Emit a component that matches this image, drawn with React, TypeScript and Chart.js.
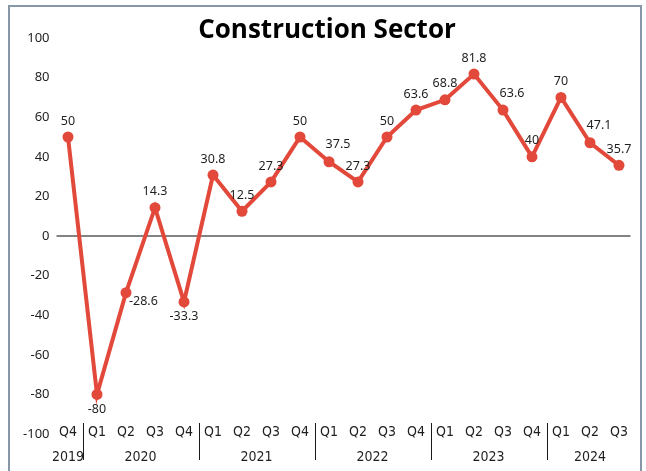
import React, { useEffect, useRef } from 'react';
import { Chart, registerables } from 'chart.js';

Chart.register(...registerables);

const quarters = ['Q4', 'Q1', 'Q2', 'Q3', 'Q4', 'Q1', 'Q2', 'Q3', 'Q4', 'Q1', 'Q2', 'Q3', 'Q4', 'Q1', 'Q2', 'Q3', 'Q4', 'Q1', 'Q2', 'Q3'];
const years = ['2019', '2020', '2020', '2020', '2020', '2021', '2021', '2021', '2021', '2022', '2022', '2022', '2022', '2023', '2023', '2023', '2023', '2024', '2024', '2024'];
const values = [50, -80, -28.6, 14.3, -33.3, 30.8, 12.5, 27.3, 50, 37.5, 27.3, 50, 63.6, 68.8, 81.8, 63.6, 40, 70, 47.1, 35.7];
const labelPlacement = ['above', 'below', 'right', 'above', 'below', 'above', 'above', 'above', 'above', 'aboveRight', 'above', 'above', 'above', 'above', 'above', 'aboveRight', 'above', 'above', 'aboveRight', 'above'];
const yTicks = [-100, -80, -60, -40, -20, 0, 20, 40, 60, 80, 100];
const title = 'Construction Sector';

const RED = '#E2493B';
const TEXT = '#1f1f1f';
const LABEL_FONT = "12.5px 'Noto Sans', 'Open Sans', sans-serif";
const CAT_FONT = "14px 'Liberation Sans Narrow', 'DejaVu Sans Condensed', 'Noto Sans', sans-serif";

const decorPlugin = {
  id: 'decor',
  beforeDatasetsDraw(chart: any) {
    const { ctx, chartArea, scales } = chart;
    const y0 = scales.y.getPixelForValue(0);
    ctx.save();
    ctx.strokeStyle = '#5a5a5a';
    ctx.lineWidth = 1.5;
    ctx.beginPath();
    ctx.moveTo(chartArea.left + 3, y0);
    ctx.lineTo(chartArea.right - 3, y0);
    ctx.stroke();
    ctx.restore();
  },
  afterDatasetsDraw(chart: any) {
    const { ctx, scales } = chart;
    const xs = scales.x;
    const ys = scales.y;
    ctx.save();
    // data labels
    ctx.font = LABEL_FONT;
    ctx.fillStyle = TEXT;
    ctx.textBaseline = 'middle';
    values.forEach((v, i) => {
      const px = xs.getPixelForValue(i);
      const py = ys.getPixelForValue(v);
      const pos = labelPlacement[i];
      let dx = 0, dy = -16, align: CanvasTextAlign = 'center';
      if (pos === 'below') { dy = 15; }
      else if (pos === 'right') { dx = 3; dy = 9; align = 'left'; }
      else if (pos === 'aboveRight') { dx = 9; dy = -17; }
      ctx.textAlign = align;
      ctx.fillText(String(v), px + dx, py + dy);
    });

    // title
    ctx.font = "bold 26px 'Open Sans', 'Noto Sans', sans-serif";
    ctx.fillStyle = '#000';
    ctx.textAlign = 'center';
    ctx.fillText(title, 317, 24);

    // quarter labels
    ctx.font = CAT_FONT;
    ctx.fillStyle = TEXT;
    const qy = 425;
    quarters.forEach((q, i) => {
      ctx.fillText(q, xs.getPixelForValue(i), qy);
    });

    // year groups
    const step = xs.getPixelForValue(1) - xs.getPixelForValue(0);
    let start = 0;
    ctx.strokeStyle = '#1a1a1a';
    ctx.lineWidth = 1;
    for (let i = 1; i <= years.length; i++) {
      if (i === years.length || years[i] !== years[start]) {
        const a = xs.getPixelForValue(start);
        const b = xs.getPixelForValue(i - 1);
        ctx.fillText(years[start], (a + b) / 2, 450);
        if (i < years.length) {
          const sx = Math.round(b + step / 2) + 0.5;
          ctx.beginPath();
          ctx.moveTo(sx, 416);
          ctx.lineTo(sx, 453);
          ctx.stroke();
        }
        start = i;
      }
    }
    ctx.restore();
  },
};

export default function App() {
  const ref = useRef<HTMLCanvasElement | null>(null);
  useEffect(() => {
    if (!ref.current) return;
    const chart = new Chart(ref.current, {
      type: 'line',
      data: {
        labels: quarters.map((q, i) => `${q} ${years[i]}`),
        datasets: [
          {
            data: values,
            borderColor: RED,
            backgroundColor: RED,
            borderWidth: 4,
            pointRadius: 5.5,
            pointBorderWidth: 0,
            pointBackgroundColor: RED,
            tension: 0,
          },
        ],
      },
      options: {
        responsive: false,
        animation: false,
        layout: { padding: { top: 31, bottom: 49, left: 0, right: 6.5 } },
        plugins: { legend: { display: false }, tooltip: { enabled: false }, title: { display: false } },
        scales: {
          x: { type: 'category', display: false, offset: true },
          y: {
            min: -100,
            max: 100,
            afterBuildTicks: (s: any) => { s.ticks = yTicks.map((v) => ({ value: v })); },
            afterFit: (s: any) => { s.width = 43.5; },
            grid: { display: false, drawTicks: false },
            border: { display: false },
            ticks: { color: TEXT, font: { family: "'Noto Sans', 'Open Sans', sans-serif", size: 13 }, padding: 4 },
          },
        },
      },
      plugins: [decorPlugin],
    });
    return () => chart.destroy();
  }, []);
  return (
    <div style={{ position: 'absolute', left: 8, top: 5, width: 630, height: 476, border: '2px solid #8797a7', background: '#fff' }}>
      <canvas ref={ref} width={630} height={476} style={{ display: 'block', width: 630, height: 476 }} />
    </div>
  );
}
